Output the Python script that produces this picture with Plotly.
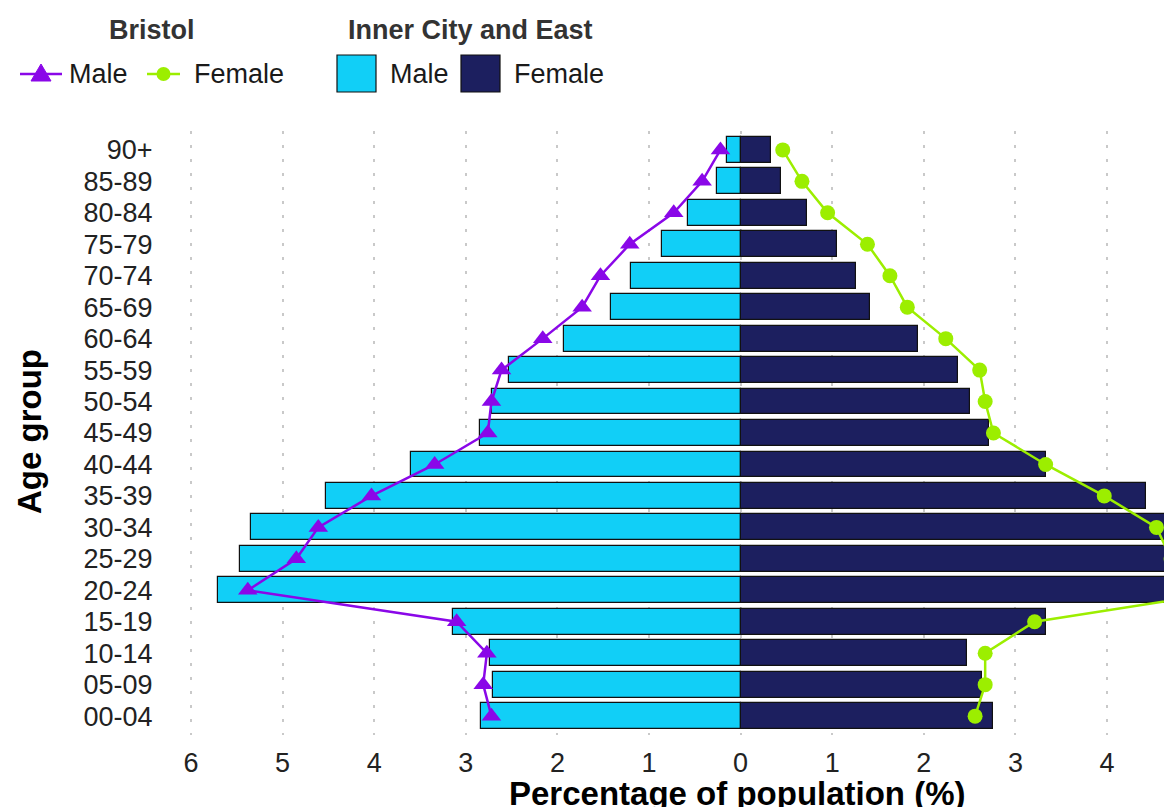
import plotly.graph_objects as go

# ---- data (bottom to top) ----
age_groups = ["00-04", "05-09", "10-14", "15-19", "20-24", "25-29", "30-34",
              "35-39", "40-44", "45-49", "50-54", "55-59", "60-64", "65-69",
              "70-74", "75-79", "80-84", "85-89", "90+"]

inner_male = [2.83, 2.70, 2.74, 3.14, 5.70, 5.47, 5.34, 4.53, 3.60, 2.84,
              2.71, 2.53, 1.93, 1.41, 1.20, 0.86, 0.57, 0.26, 0.15]
inner_female = [2.75, 2.63, 2.47, 3.33, 5.80, 5.40, 5.10, 4.43, 3.33, 2.71,
                2.50, 2.37, 1.94, 1.41, 1.26, 1.05, 0.73, 0.445, 0.33]
bristol_male = [2.72, 2.81, 2.77, 3.10, 5.38, 4.85, 4.61, 4.03, 3.34, 2.76,
                2.72, 2.61, 2.16, 1.73, 1.53, 1.21, 0.73, 0.42, 0.22]
bristol_female = [2.56, 2.67, 2.67, 3.21, 5.40, 4.70, 4.54, 3.97, 3.33, 2.76,
                  2.67, 2.61, 2.24, 1.82, 1.63, 1.385, 0.95, 0.67, 0.46]

tick_vals = [-6, -5, -4, -3, -2, -1, 0, 1, 2, 3, 4]
tick_text = ["6", "5", "4", "3", "2", "1", "0", "1", "2", "3", "4"]

CYAN = "#11CFF7"
NAVY = "#1C1F5F"
PURPLE = "#8A07E8"
GREEN = "#9CEE00"
FONT = "Liberation Sans, Arial, sans-serif"

# page offset (browser body margin) compensation
OFF = 8
W, H = 1172 - OFF, 807 - OFF
# panel edges in screen pixels
L, R, T, B = 160, OFF + W, 131, 735
ZERO, UNIT = 740.6, 91.6   # screen x of value 0 and pixels per unit

fig = go.Figure()

fig.add_trace(go.Bar(
    y=age_groups, x=[-v for v in inner_male], orientation="h", width=0.82,
    marker=dict(color=CYAN, line=dict(color="#111111", width=1.2)),
    name="Male", showlegend=False))
fig.add_trace(go.Bar(
    y=age_groups, x=inner_female, orientation="h", width=0.82,
    marker=dict(color=NAVY, line=dict(color="#111111", width=1.2)),
    name="Female", showlegend=False))

fig.add_trace(go.Scatter(
    y=age_groups, x=[-v for v in bristol_male], mode="lines+markers",
    line=dict(color=PURPLE, width=2.5),
    marker=dict(symbol="triangle-up", size=17, color=PURPLE),
    showlegend=False))
fig.add_trace(go.Scatter(
    y=age_groups, x=bristol_female, mode="lines+markers",
    line=dict(color=GREEN, width=2.5),
    marker=dict(symbol="circle", size=15, color=GREEN),
    showlegend=False))

# screen pixel -> paper coordinate helpers for the manually drawn legend
def px(x):
    return (x - L) / (R - L)
def py(y):
    return (B - y) / (B - T)

shapes = [
    dict(type="line", xref="paper", yref="paper", x0=px(20), x1=px(62),
         y0=py(74), y1=py(74), line=dict(color=PURPLE, width=2.5)),
    dict(type="path", xref="paper", yref="paper", xsizemode="pixel", ysizemode="pixel",
         xanchor=px(41), yanchor=py(74), path="M -10,-7 L 10,-7 L 0,10 Z",
         fillcolor=PURPLE, line=dict(color=PURPLE, width=1)),
    dict(type="line", xref="paper", yref="paper", x0=px(147), x1=px(180),
         y0=py(74), y1=py(74), line=dict(color=GREEN, width=2.5)),
    dict(type="circle", xref="paper", yref="paper", xsizemode="pixel", ysizemode="pixel",
         xanchor=px(163.5), yanchor=py(74), x0=-7, x1=7, y0=-7, y1=7,
         fillcolor=GREEN, line=dict(color=GREEN, width=0)),
    dict(type="rect", xref="paper", yref="paper", x0=px(337), x1=px(376),
         y0=py(92), y1=py(55), fillcolor=CYAN, line=dict(color="#111111", width=1.2)),
    dict(type="rect", xref="paper", yref="paper", x0=px(461), x1=px(500),
         y0=py(92), y1=py(55), fillcolor=NAVY, line=dict(color="#111111", width=1.2)),
]

def ann(text, x, y, size=27, bold=False, anchor="left", color="#1a1a1a", angle=0):
    return dict(text=f"<b>{text}</b>" if bold else text, xref="paper", yref="paper",
                x=px(x), y=py(y), xanchor=anchor, yanchor="middle", showarrow=False,
                textangle=angle, font=dict(family=FONT, size=size, color=color))

annotations = [
    ann("Bristol", 152, 30, bold=True, anchor="center", color="#333333"),
    ann("Inner City and East", 470, 30, bold=True, anchor="center", color="#333333"),
    ann("Male", 67, 74),
    ann("Female", 192, 74),
    ann("Male", 388, 74),
    ann("Female", 512, 74),
    ann("Percentage of population (%)", 737, 794, size=33, bold=True, anchor="center", color="#000000"),
    ann("Age group", 29, 432, size=33, bold=True, anchor="center", color="#000000", angle=-90),
]

fig.update_layout(
    width=W, height=H,
    margin=dict(l=L - OFF, r=0, t=T - OFF, b=H - (B - OFF), pad=0, autoexpand=False),
    plot_bgcolor="white", paper_bgcolor="white",
    barmode="overlay", bargap=0,
    shapes=shapes, annotations=annotations,
    font=dict(family=FONT, size=27, color="#1a1a1a"),
    showlegend=False,
)
fig.update_xaxes(
    range=[(L - ZERO) / UNIT, (R - ZERO) / UNIT],
    tickmode="array", tickvals=tick_vals, ticktext=tick_text,
    showgrid=True, gridcolor="#c9c9c9", gridwidth=2, griddash="3px,11px",
    zeroline=False, showline=False, automargin=False,
    ticks="outside", ticklen=4, tickcolor="rgba(0,0,0,0)",
    tickfont=dict(family=FONT, size=27, color="#222222"),
)
fig.update_yaxes(
    type="category", categoryorder="array", categoryarray=age_groups,
    tickmode="array", tickvals=age_groups, ticktext=age_groups,
    range=[-0.6, 18.6], showgrid=False, zeroline=False, showline=False,
    automargin=False,
    ticks="outside", ticklen=1, tickcolor="rgba(0,0,0,0)",
    tickfont=dict(family=FONT, size=27, color="#222222"),
)

fig.write_html("out.html")
